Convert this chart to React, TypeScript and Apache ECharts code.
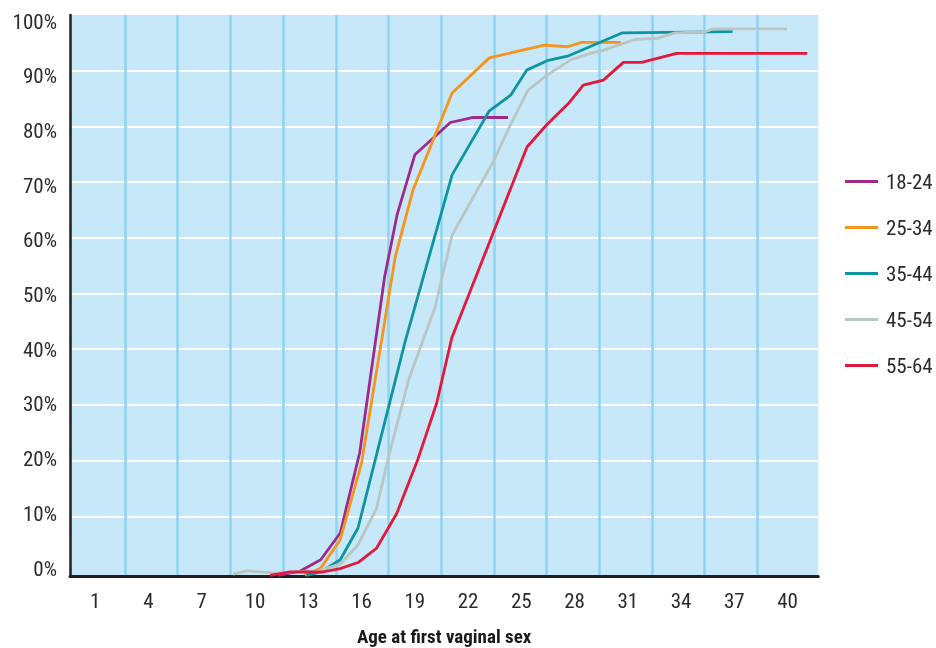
import React, { useEffect, useRef } from "react";
import * as echarts from "echarts";

const seriesNames = ["18-24", "25-34", "35-44", "45-54", "55-64"];
const seriesColors = ["#9e2a8c", "#f7941d", "#0f95a1", "#bac6c2", "#e2183d"];

const ages1824 = [11.3, 12.5, 13.7, 14.8, 15.9, 17.3, 18.0, 19.0, 21.0, 22.3, 24.25];
const pct1824 = [-0.6, 0.1, 2.2, 7.0, 21.5, 53.0, 64.1, 74.9, 80.7, 81.6, 81.6];

const ages2534 = [12.8, 13.7, 14.8, 16.0, 17.9, 18.9, 21.1, 23.2, 26.3, 27.6, 28.4, 30.6];
const pct2534 = [-0.6, 0.7, 5.8, 19.6, 56.6, 68.6, 86.0, 92.3, 94.6, 94.3, 95.1, 95.1];

const ages3544 = [12.9, 13.7, 14.8, 15.8, 18.45, 21.1, 23.2, 24.4, 25.3, 26.45, 27.6, 30.7, 36.9];
const pct3544 = [-0.6, 0, 2.2, 7.9, 41.3, 71.3, 82.8, 85.6, 90.1, 91.8, 92.6, 96.8, 97.0];

const ages4554 = [8.76, 9.55, 11.24, 12.44, 13.56, 14.79, 15.8, 16.84, 17.49, 18.67, 20.13, 21.1, 23.41, 24.36, 25.38, 26.45, 27.8, 28.98, 29.55, 31.41, 32.65, 33.66, 35.35, 35.8, 39.97];
const pct4554 = [-0.4, 0.2, -0.2, 0.05, 0.2, 1.4, 4.9, 11.4, 20.3, 34.7, 47.4, 60.5, 73.6, 80.1, 86.5, 89.2, 92.0, 93.2, 93.6, 95.6, 95.8, 96.8, 97.0, 97.5, 97.5];

const ages5564 = [10.84, 11.97, 13.83, 14.79, 15.8, 16.85, 17.98, 19.18, 20.23, 21.08, 25.32, 26.43, 27.65, 28.49, 29.62, 30.75, 31.78, 33.75, 41.11];
const pct5564 = [-0.6, 0, 0, 0.6, 1.7, 4.3, 10.5, 20.3, 30.3, 42.0, 76.3, 80.3, 84.1, 87.4, 88.3, 91.5, 91.5, 93.1, 93.1];

const xTickLabels = [1, 4, 7, 10, 13, 16, 19, 22, 25, 28, 31, 34, 37, 40];
const xGridLines = [2.673, 5.64, 8.61, 11.58, 14.55, 17.52, 20.48, 23.45, 26.42, 29.39, 32.36, 35.33, 38.29];
const yTickLabels = [0, 10, 20, 30, 40, 50, 60, 70, 80, 90, 100];
const yGridLines = [10, 20, 30, 40, 50, 60, 70, 80, 90];

const allAges = [ages1824, ages2534, ages3544, ages4554, ages5564];
const allPct = [pct1824, pct2534, pct3544, pct4554, pct5564];

const FONT = "'Liberation Sans Narrow', 'Roboto Condensed', 'DejaVu Sans Condensed', 'Liberation Sans', sans-serif";
const TEXT = "#2b2b2b";

export default function App() {
  const ref = useRef<HTMLDivElement>(null);
  useEffect(() => {
    const chart = echarts.init(ref.current!, null, { renderer: "svg" });
    const series = seriesNames.map((name, i) => ({
      name,
      type: "line",
      xAxisIndex: 0,
      yAxisIndex: 0,
      symbol: "none",
      clip: false,
      lineStyle: { color: seriesColors[i], width: 2.8 },
      itemStyle: { color: seriesColors[i] },
      data: allAges[i].map((a, j) => [a, allPct[i][j]]),
    }));
    chart.setOption({
      animation: false,
      textStyle: { fontFamily: FONT },
      grid: {
        left: 70,
        right: 117.7,
        top: 15,
        bottom: 72,
        show: true,
        backgroundColor: "#c7e8f8",
        borderWidth: 0,
        containLabel: false,
        outerBoundsMode: "none",
      },
      legend: {
        data: seriesNames,
        orient: "vertical",
        left: 845,
        top: 171,
        padding: 0,
        icon: "rect",
        itemWidth: 33,
        itemHeight: 3,
        itemGap: 25,
        textStyle: { fontFamily: FONT, fontSize: 21, color: TEXT, padding: [0, 0, 0, 3] },
      },
      xAxis: [
        {
          type: "value",
          min: -0.425,
          max: 41.73,
          axisLine: { show: true, onZero: false, lineStyle: { color: "#231f20", width: 3 } },
          axisTick: { show: false, customValues: xGridLines },
          axisLabel: {
            customValues: xTickLabels,
            fontFamily: FONT,
            fontSize: 21,
            color: TEXT,
            margin: 14,
          },
          splitLine: { show: true, lineStyle: { color: "#8ed4f3", width: 2.5 } },
          name: "Age at first vaginal sex",
          nameLocation: "middle",
          nameGap: 51,
          nameTextStyle: { fontFamily: FONT, fontSize: 19, fontWeight: "bold", color: "#1a1a1a" },
        },
      ],
      yAxis: [
        {
          type: "value",
          min: -0.72,
          max: 100,
          axisLine: { show: true, onZero: false, lineStyle: { color: "#231f20", width: 2.5 } },
          axisTick: { show: false, customValues: yGridLines },
          axisLabel: { show: false },
          splitLine: { show: true, lineStyle: { color: "#ffffff", width: 2 } },
        },
        {
          type: "value",
          min: -1.371,
          max: 101.19,
          position: "left",
          axisLine: { show: false },
          axisTick: { show: false },
          splitLine: { show: false },
          axisLabel: {
            customValues: yTickLabels,
            formatter: "{value}%",
            fontFamily: FONT,
            fontSize: 21,
            color: TEXT,
            margin: 13,
          },
        },
      ],
      series,
    });
    return () => chart.dispose();
  }, []);
  return <div ref={ref} style={{ position: "fixed", left: 0, top: 0, width: 936, height: 648 }} />;
}
